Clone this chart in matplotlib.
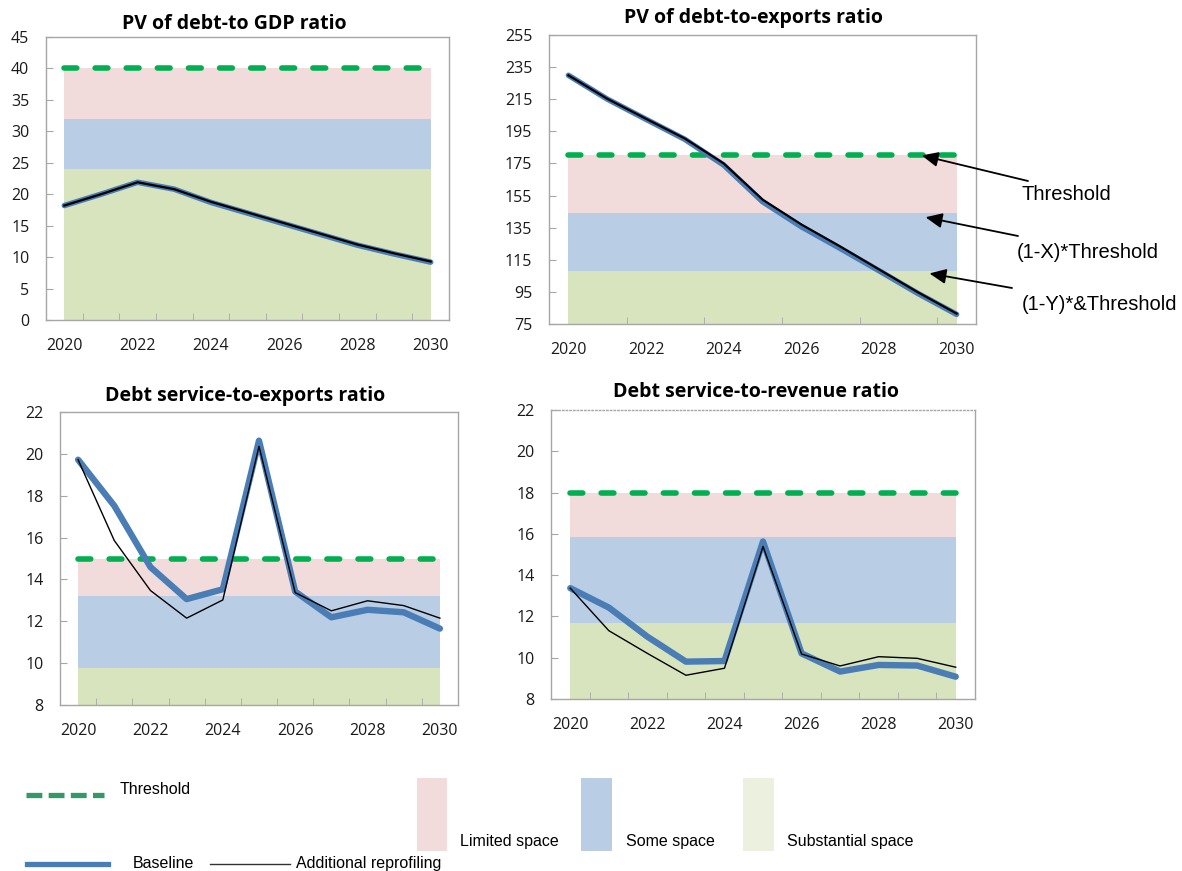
import matplotlib
matplotlib.use("Agg")
import matplotlib.pyplot as plt
from matplotlib.lines import Line2D
from matplotlib.patches import Rectangle

# ---------------- data ----------------
years = [2020, 2021, 2022, 2023, 2024, 2025, 2026, 2027, 2028, 2029, 2030]
year_labels = ["2020", "2022", "2024", "2026", "2028", "2030"]

gdp_baseline = [18.2, 20.0, 21.9, 20.8, 18.7, 17.0, 15.3, 13.6, 11.9, 10.5, 9.2]
gdp_additional = [18.2, 20.0, 21.9, 20.8, 18.8, 17.1, 15.4, 13.7, 12.0, 10.6, 9.3]
gdp_threshold = 40
gdp_bands = [24, 32, 40]

exp_baseline = [229.9, 215.1, 202.5, 190.0, 174.0, 151.2, 135.6, 122.1, 108.2, 94.1, 81.0]
exp_additional = [229.9, 215.3, 202.8, 190.5, 175.0, 152.5, 137.0, 123.3, 109.0, 94.8, 81.5]
exp_threshold = 180
exp_bands = [108, 144, 180]

dse_baseline = [19.72, 17.52, 14.59, 13.06, 13.53, 20.63, 13.42, 12.19, 12.55, 12.43, 11.65]
dse_additional = [19.72, 15.86, 13.47, 12.15, 13.02, 20.36, 13.37, 12.50, 12.98, 12.75, 12.15]
dse_threshold = 15
dse_bands = [9.75, 13.2, 15]

dsr_baseline = [13.37, 12.43, 11.02, 9.81, 9.84, 15.63, 10.21, 9.33, 9.65, 9.62, 9.08]
dsr_additional = [13.37, 11.31, 10.21, 9.15, 9.49, 15.39, 10.18, 9.60, 10.05, 9.97, 9.54]
dsr_threshold = 18
dsr_bands = [11.7, 15.84, 18]

titles = ["PV of debt-to GDP ratio", "PV of debt-to-exports ratio",
          "Debt service-to-exports ratio", "Debt service-to-revenue ratio"]
annot_labels = ["Threshold", "(1-X)*Threshold", "(1-Y)*&Threshold"]
legend_labels = ["Threshold", "Baseline", "Additional reprofiling",
                 "Limited space", "Some space", "Substantial space"]

# ---------------- style ----------------
W, H = 1182, 871
C_RED = "#f2dcdb"
C_BLUE = "#b9cde5"
C_GREEN = "#d7e4bd"
C_GREEN_LEG = "#ebf1de"
C_THR = "#00b050"
C_THR_LEG = "#339966"
C_BASE = "#4a7db5"
C_SPINE = "#a6a6a6"
TICK_FONT = ["Open Sans", "DejaVu Sans"]
ARIAL = ["Liberation Sans", "DejaVu Sans"]

fig = plt.figure(figsize=(W / 100, H / 100), dpi=100)


def px_axes(x0, y0, x1, y1):
    return fig.add_axes([x0 / W, 1 - y1 / H, (x1 - x0) / W, (y1 - y0) / H])


def fx(x):
    return x / W


def fy(y):
    return 1 - y / H


def draw_panel(ax, base, add, thr, bands, ylim, ystep, minor_x, base_lw, add_lw):
    ax.set_xlim(2019.5, 2030.5)
    ax.set_ylim(*ylim)
    lo = ylim[0]
    ax.fill_between(years, lo, bands[0], color=C_GREEN, lw=0, zorder=1)
    ax.fill_between(years, bands[0], bands[1], color=C_BLUE, lw=0, zorder=1)
    ax.fill_between(years, bands[1], bands[2], color=C_RED, lw=0, zorder=1)
    ln, = ax.plot(years, [thr] * len(years), color=C_THR, lw=4.0, zorder=3,
                  dash_capstyle="round")
    ln.set_dashes([2.3, 3.3])
    ax.plot(years, base, color=C_BASE, lw=base_lw, zorder=4, solid_capstyle="round",
            solid_joinstyle="round")
    ax.plot(years, add, color="black", lw=add_lw, zorder=5)
    ax.set_yticks(list(range(int(ylim[0]), int(ylim[1]) + 1, ystep)))
    ax.set_xticks([2020, 2022, 2024, 2026, 2028, 2030])
    ax.set_xticklabels(year_labels)
    ax.set_xticks(minor_x, minor=True)
    ax.tick_params(axis="x", which="major", length=0, pad=13, labelsize=11.5)
    ax.tick_params(axis="x", which="minor", length=5, direction="in", color=C_SPINE)
    ax.tick_params(axis="y", which="major", length=5, direction="in", color=C_SPINE,
                   pad=12, labelsize=11.5)
    for lab in ax.get_xticklabels() + ax.get_yticklabels():
        lab.set_family(TICK_FONT)
        lab.set_color("#1a1a1a")
    for s in ax.spines.values():
        s.set_color(C_SPINE)
        s.set_linewidth(1.0)


minor_all = [y + 0.5 for y in years[:-1]]
minor_two = [2021.5, 2023.5, 2025.5, 2027.5, 2029.5]

ax1 = px_axes(46, 37, 449, 320)
draw_panel(ax1, gdp_baseline, gdp_additional, gdp_threshold, gdp_bands, (0, 45), 5,
           minor_all, 4.0, 1.6)
ax2 = px_axes(549, 35, 976, 324)
draw_panel(ax2, exp_baseline, exp_additional, exp_threshold, exp_bands, (75, 255), 20,
           minor_two, 4.0, 1.6)
ax3 = px_axes(60, 412, 458, 705)
draw_panel(ax3, dse_baseline, dse_additional, dse_threshold, dse_bands, (8, 22), 2,
           minor_all, 4.6, 1.0)
ax4 = px_axes(551, 410, 975, 699)
draw_panel(ax4, dsr_baseline, dsr_additional, dsr_threshold, dsr_bands, (8, 22), 2,
           minor_all, 4.6, 1.0)
ax4.spines["top"].set_linestyle(":")

# titles
title_pos = [(234, 24), (753, 18), (245, 396), (756, 392)]
for t, (x, y) in zip(titles, title_pos):
    fig.text(fx(x), fy(y), t, ha="center", va="center", fontsize=14,
             fontweight="bold", family=TICK_FONT)

# annotations on panel 2
tips = [(2029.1, exp_threshold), (2029.2, exp_bands[1] - 2.5), (2029.3, exp_bands[0] - 1.5)]
tails = [(1028, 181), (1018, 236), (1012, 288)]
text_pos = [(1022, 200), (1017, 258), (1022, 310)]
for (tx, ty), (qx, qy), lab, (lx, ly) in zip(tips, tails, annot_labels, text_pos):
    ax2.annotate("", xy=(tx, ty), xycoords="data",
                 xytext=(fx(qx), fy(qy)), textcoords="figure fraction",
                 arrowprops=dict(arrowstyle="-|>,head_length=1.0,head_width=0.45",
                                 color="black", lw=1.3, shrinkA=0, shrinkB=0),
                 annotation_clip=False)
    fig.text(fx(lx), fy(ly), lab, ha="left", va="baseline", fontsize=14.5, family=ARIAL)

# ---------------- legend ----------------
thr_leg = Line2D([fx(26), fx(104)], [fy(795), fy(795)], transform=fig.transFigure,
                 color=C_THR_LEG, lw=3.8)
thr_leg.set_dashes([3.0, 1.2])
fig.add_artist(thr_leg)
fig.add_artist(Line2D([fx(27), fx(108)], [fy(864), fy(864)], transform=fig.transFigure,
                      color=C_BASE, lw=3.8))
fig.add_artist(Line2D([fx(210), fx(290)], [fy(864), fy(864)], transform=fig.transFigure,
                      color="#333333", lw=1.0))
for (x0, x1), c in zip([(417, 447), (581, 612), (743, 774)], [C_RED, C_BLUE, C_GREEN_LEG]):
    fig.add_artist(Rectangle((fx(x0), fy(851)), fx(x1 - x0), (851 - 778) / H,
                             transform=fig.transFigure, color=c, lw=0))

leg_text_pos = [(120, 794), (133, 868), (296, 868), (460, 846), (626, 846), (787, 846)]
for lab, (x, y) in zip(legend_labels, leg_text_pos):
    fig.text(fx(x), fy(y), lab, ha="left", va="baseline", fontsize=11.5, family=ARIAL)

fig.savefig("out.png", dpi=100)
